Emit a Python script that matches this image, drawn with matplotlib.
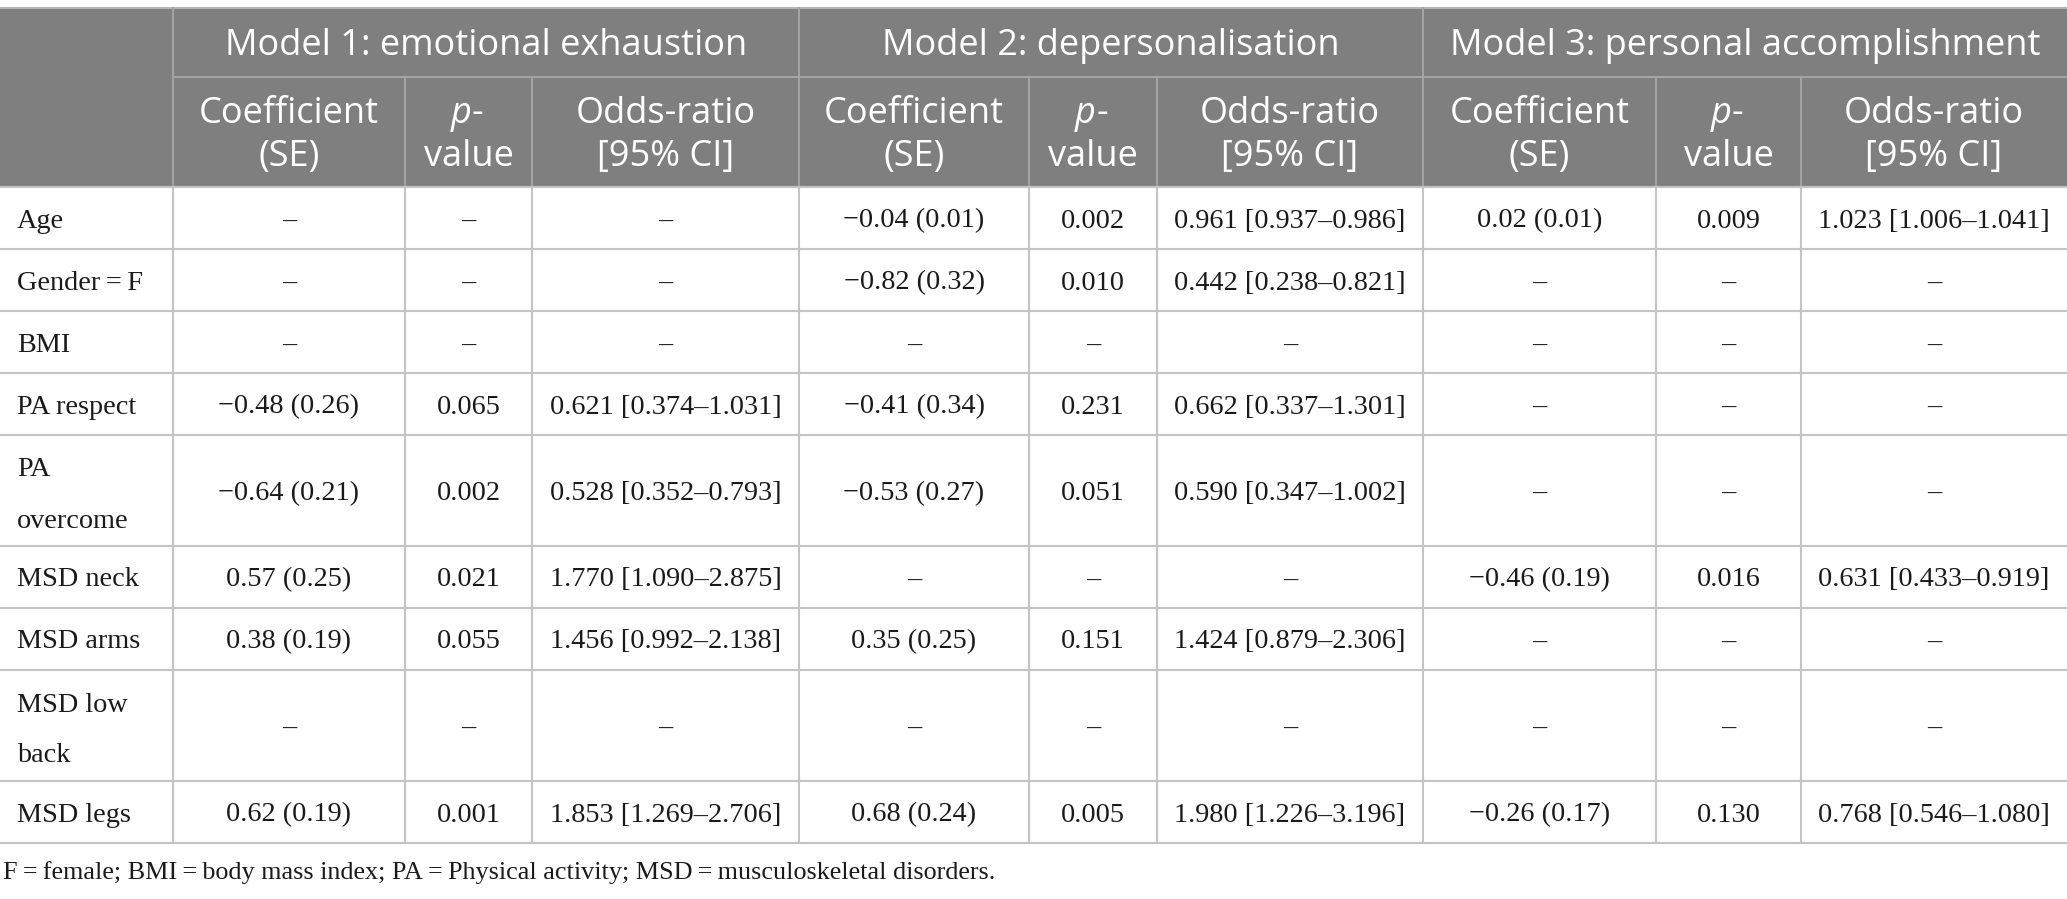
import matplotlib
matplotlib.use("Agg")
import matplotlib.pyplot as plt
from matplotlib.patches import Rectangle

# ---------------- data ----------------
model_titles = ["Model 1: emotional exhaustion", "Model 2: depersonalisation",
                "Model 3: personal accomplishment"]
sub_headers = [["Coefficient", "(SE)"], ["p-", "value"], ["Odds-ratio", "[95% CI]"]]

row_labels = ["Age", "Gender\u2009=\u2009F", "BMI", "PA respect", "PA\novercome",
              "MSD neck", "MSD arms", "MSD low\nback", "MSD legs"]

m1_coef = ["–", "–", "–", "−0.48 (0.26)", "−0.64 (0.21)", "0.57 (0.25)", "0.38 (0.19)", "–", "0.62 (0.19)"]
m1_p = ["–", "–", "–", "0.065", "0.002", "0.021", "0.055", "–", "0.001"]
m1_or = ["–", "–", "–", "0.621 [0.374–1.031]", "0.528 [0.352–0.793]", "1.770 [1.090–2.875]",
         "1.456 [0.992–2.138]", "–", "1.853 [1.269–2.706]"]

m2_coef = ["−0.04 (0.01)", "−0.82 (0.32)", "–", "−0.41 (0.34)", "−0.53 (0.27)", "–", "0.35 (0.25)", "–", "0.68 (0.24)"]
m2_p = ["0.002", "0.010", "–", "0.231", "0.051", "–", "0.151", "–", "0.005"]
m2_or = ["0.961 [0.937–0.986]", "0.442 [0.238–0.821]", "–", "0.662 [0.337–1.301]", "0.590 [0.347–1.002]",
         "–", "1.424 [0.879–2.306]", "–", "1.980 [1.226–3.196]"]

m3_coef = ["0.02 (0.01)", "–", "–", "–", "–", "−0.46 (0.19)", "–", "–", "−0.26 (0.17)"]
m3_p = ["0.009", "–", "–", "–", "–", "0.016", "–", "–", "0.130"]
m3_or = ["1.023 [1.006–1.041]", "–", "–", "–", "–", "0.631 [0.433–0.919]", "–", "–", "0.768 [0.546–1.080]"]

footnote = ("F\u2009=\u2009female; BMI\u2009=\u2009body mass index; PA\u2009=\u2009Physical activity; "
            "MSD\u2009=\u2009musculoskeletal disorders.")

columns = [m1_coef, m1_p, m1_or, m2_coef, m2_p, m2_or, m3_coef, m3_p, m3_or]

# ---------------- layout ----------------
W, H = 2067, 899
fig = plt.figure(figsize=(W / 100, H / 100), dpi=100)
ax = fig.add_axes([0, 0, 1, 1])
ax.set_xlim(0, W)
ax.set_ylim(H, 0)
ax.axis("off")

col_edges = [0, 173, 405, 532, 799, 1029, 1157, 1423, 1656, 1801, W]
top, h1, h2 = 8, 77, 187
single_h, double_h = 62, 111

row_edges = [h2]
for lab in row_labels:
    row_edges.append(row_edges[-1] + (double_h if "\n" in lab else single_h))

HEAD_BG = "#7f7f7f"
HEAD_LINE = "#a3a3a3"
GRID = "#c4c4c4"
TXT = "#1a1a1a"
LW = 1.5

sans = ["Open Sans", "DejaVu Sans"]
serif = ["Liberation Serif", "DejaVu Serif"]
head_fs = 26
body_fs = 20.3
foot_fs = 18.8

# header background
ax.add_patch(Rectangle((0, top), W, h2 - top, facecolor=HEAD_BG, edgecolor="none", zorder=1))
ax.plot([0, W], [top, top], color="#b5b5b5", lw=LW, zorder=2)
ax.plot([col_edges[1], W], [h1, h1], color=HEAD_LINE, lw=LW, zorder=2)
for i, x in enumerate(col_edges[1:-1], start=1):
    y0 = top if i in (1, 4, 7) else h1
    ax.plot([x, x], [y0, h2], color=HEAD_LINE, lw=LW, zorder=2)

# body grid
for y in row_edges:
    ax.plot([0, W], [y, y], color=GRID, lw=LW, zorder=2)
for x in col_edges[1:-1]:
    ax.plot([x, x], [h2, row_edges[-1]], color=GRID, lw=LW, zorder=2)

# header texts
head_cap_off = 12.5
for k, title in enumerate(model_titles):
    cx = (col_edges[1 + 3 * k] + col_edges[4 + 3 * k]) / 2
    ax.text(cx, (top + h1) / 2 + head_cap_off, title, ha="center", va="baseline",
            color="white", fontsize=head_fs, family=sans, zorder=3)
    for j in range(3):
        x0, x1 = col_edges[1 + 3 * k + j], col_edges[2 + 3 * k + j]
        cx = (x0 + x1) / 2
        cy = (h1 + h2) / 2
        l1, l2 = sub_headers[j]
        y1 = cy - 21.5 + head_cap_off
        y2 = cy + 21.5 + head_cap_off
        if l1 == "p-":
            ax.text(cx + 3, y1, "p", ha="right", va="baseline", color="white",
                    fontsize=head_fs, family=sans, style="italic", zorder=3)
            ax.text(cx + 3, y1, "-", ha="left", va="baseline", color="white",
                    fontsize=head_fs, family=sans, zorder=3)
        else:
            ax.text(cx, y1, l1, ha="center", va="baseline", color="white",
                    fontsize=head_fs, family=sans, zorder=3)
        ax.text(cx, y2, l2, ha="center", va="baseline", color="white",
                fontsize=head_fs, family=sans, zorder=3)

# body texts
body_cap_off = 9.5
for r, lab in enumerate(row_labels):
    cy = (row_edges[r] + row_edges[r + 1]) / 2
    lines = lab.split("\n")
    if len(lines) == 1:
        ax.text(17, cy + body_cap_off, lab, ha="left", va="baseline", color=TXT,
                fontsize=body_fs, family=serif, zorder=3)
    else:
        ax.text(17, cy - 25.5 + body_cap_off + 2, lines[0], ha="left", va="baseline",
                color=TXT, fontsize=body_fs, family=serif, zorder=3)
        ax.text(17, cy + 25.5 + body_cap_off + 2, lines[1], ha="left", va="baseline",
                color=TXT, fontsize=body_fs, family=serif, zorder=3)
    for c, col in enumerate(columns):
        cx = (col_edges[c + 1] + col_edges[c + 2]) / 2
        ax.text(cx, cy + body_cap_off, col[r], ha="center", va="baseline", color=TXT,
                fontsize=body_fs, family=serif, zorder=3)

# footnote
ax.text(3, 879, footnote, ha="left", va="baseline", color=TXT,
        fontsize=foot_fs, family=serif, zorder=3)

fig.savefig("out.png", dpi=100, facecolor="white")
